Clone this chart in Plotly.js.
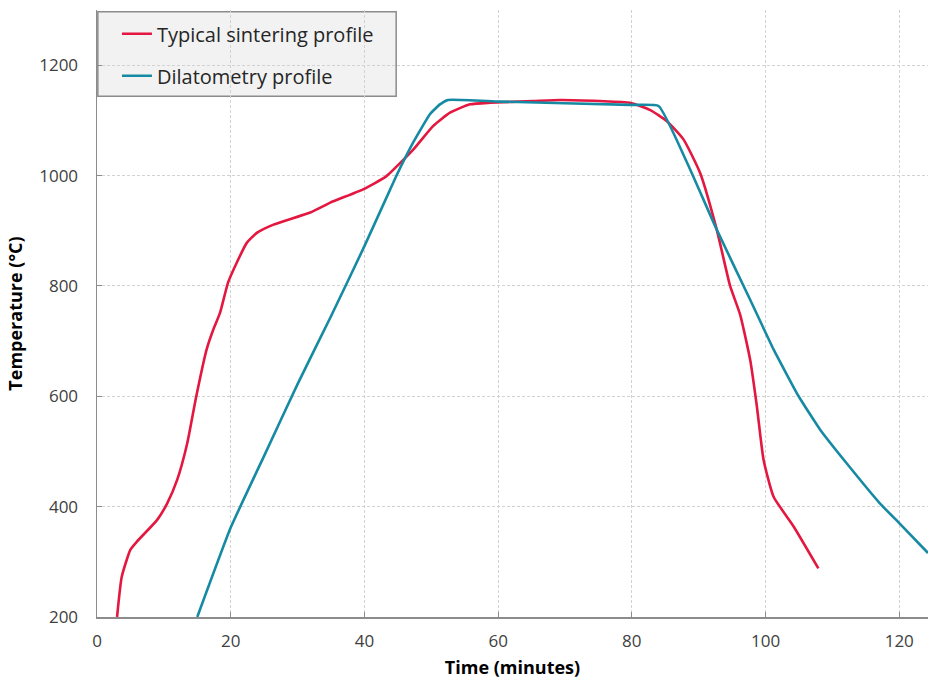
<!DOCTYPE html>
<html>
<head>
<meta charset="utf-8">
<script src="https://cdn.plot.ly/plotly-3.0.1.min.js"></script>
<style>html,body{margin:0;padding:0;background:#fff;}#chart{width:928px;height:685px;}</style>
</head>
<body>
<div id="chart"></div>
<script>
// Typical sintering profile (time in minutes, temperature in °C)
const sinterTime = [3.0, 3.7, 5.0, 6.0, 9.0, 10.5, 12.0, 13.5, 14.8, 16.4, 17.4, 18.4, 19.6, 20.9, 22.4, 23.9, 26.4, 31.9, 34.9, 39.8, 43.3, 47.3, 50.3, 52.8, 55.8, 58.8, 65.2, 69.3, 75.2, 79.7, 82.7, 85.2, 87.7, 90.2, 92.7, 94.7, 96.2, 97.7, 98.7, 99.7, 101.2, 104.2, 107.9];
const sinterTemp = [200, 273, 322, 337, 376, 406, 449, 515, 597, 685, 721, 751, 806, 842, 878, 896, 911, 933, 951, 975, 999, 1047, 1090, 1114, 1129, 1132, 1135, 1137, 1135, 1132, 1119, 1099, 1066, 1005, 902, 800, 748, 666, 582, 485, 418, 364, 288];

// Dilatometry profile
const dilTime = [15.0, 20.0, 25.0, 30.0, 35.0, 40.0, 44.8, 47.3, 49.8, 51.3, 52.5, 60.3, 79.7, 84.0, 88.2, 92.7, 97.7, 101.2, 104.9, 108.2, 112.1, 117.1, 120.0, 124.3];
const dilTemp = [200, 362, 492, 622, 745, 872, 1000, 1060, 1111, 1129, 1137, 1134, 1128, 1126, 1025, 902, 775, 685, 601, 539, 479, 406, 370, 316];

const seriesNames = ["Typical sintering profile", "Dilatometry profile"];
const xTicks = [0, 20, 40, 60, 80, 100, 120];
const yTicks = [200, 400, 600, 800, 1000, 1200];

const FONT = "'Open Sans', 'Noto Sans', sans-serif";

const traces = [
  {x: sinterTime, y: sinterTemp, type: 'scatter', mode: 'lines', name: seriesNames[0],
   line: {color: '#e3173f', width: 2.6, shape: 'spline', smoothing: 0.5}, legendgroup: 'a'},
  {x: dilTime, y: dilTemp, type: 'scatter', mode: 'lines', name: seriesNames[1],
   line: {color: '#178aa3', width: 2.6, shape: 'spline', smoothing: 0.4}, legendgroup: 'b'}
];

const axisCommon = {
  showline: true, linecolor: '#8c8c8c', linewidth: 1.5,
  ticks: 'inside', ticklen: 5, tickcolor: '#8c8c8c', tickwidth: 1,
  showgrid: true, gridcolor: '#d2d2d2', griddash: '3px,2px', gridwidth: 1,
  zeroline: false, mirror: false,
  tickfont: {family: FONT, size: 17, color: '#404040'}
};

const layout = {
  width: 928, height: 685,
  margin: {l: 97, r: 0, t: 10, b: 68},
  paper_bgcolor: '#ffffff', plot_bgcolor: '#ffffff',
  showlegend: true,
  legend: {x: 0.024, y: 0.993, xanchor: 'left', yanchor: 'top',
    bgcolor: 'rgba(0,0,0,0)', borderwidth: 0, tracegroupgap: 13, itemwidth: 30,
    font: {family: FONT, size: 20, color: '#262626'}},
  shapes: [{type: 'rect', xref: 'paper', yref: 'paper', x0: 0.001, x1: 0.36, y0: 0.858, y1: 0.997,
    fillcolor: '#f2f2f2', line: {color: '#8c8c8c', width: 1.5}, layer: 'below'}],
  xaxis: Object.assign({}, axisCommon, {
    range: [0, 124.3], tickvals: xTicks, ticktext: xTicks.map(String),
    ticklabelstandoff: 8,
    title: {text: 'Time (minutes)', font: {family: FONT, size: 18, color: '#000', weight: 'bold'}, standoff: 10}
  }),
  yaxis: Object.assign({}, axisCommon, {
    range: [200, 1300], tickvals: yTicks, ticktext: yTicks.map(String),
    ticklabelstandoff: 14,
    title: {text: 'Temperature (°C)', font: {family: FONT, size: 18, color: '#000', weight: 'bold'}, standoff: 12}
  })
};

Plotly.newPlot('chart', traces, layout, {displayModeBar: false, staticPlot: true});
</script>
</body>
</html>
